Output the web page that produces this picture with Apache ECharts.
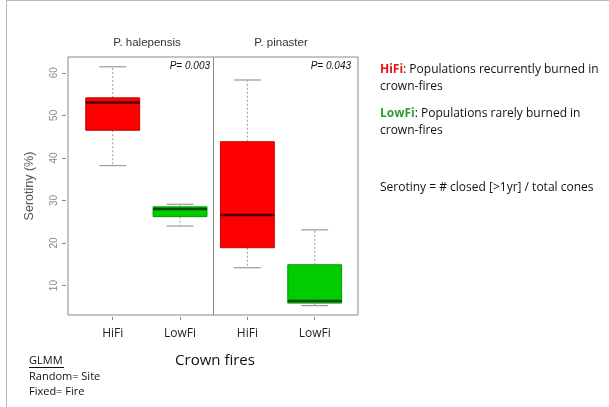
<!DOCTYPE html>
<html><head><meta charset="utf-8">
<script src="https://cdn.jsdelivr.net/npm/echarts@6/dist/echarts.min.js"></script>
<style>html,body{margin:0;padding:0;background:#fff}#c{width:609px;height:407px}</style>
</head><body><div id="c"></div>
<script>
var categories = ['HiFi', 'LowFi', 'HiFi', 'LowFi'];
var species = ['P. halepensis', 'P. pinaster'];
var pValues = ['P= 0.003', 'P= 0.043'];
var whiskerLow = [38.2, 24.0, 14.2, 5.3];
var q1 = [46.5, 26.2, 18.9, 5.9];
var median = [53.0, 28.0, 26.6, 6.4];
var q3 = [54.1, 28.5, 43.8, 14.9];
var whiskerHigh = [61.4, 29.1, 58.3, 23.1];
var yTicks = [10, 20, 30, 40, 50, 60];

var fills = ['#ff0000', '#00cc00', '#ff0000', '#00cc00'];
var borders = ['#c00000', '#009a00', '#c00000', '#009a00'];
var medCols = ['#4a0000', '#064d06', '#4a0000', '#064d06'];

var positions = categories.map(function (c, i) { return i + 1; });
var data = positions.map(function (x, i) {
  return [x, whiskerLow[i], q1[i], median[i], q3[i], whiskerHigh[i]];
});

var chart = echarts.init(document.getElementById('c'), null, {renderer: 'canvas'});
var sans = 'Liberation Sans';
var slide = 'Open Sans';

chart.setOption({
  animation: false,
  grid: {left: 68, right: 251, top: 57, bottom: 92, show: true, borderColor: '#8a8a8a', borderWidth: 1},
  xAxis: {
    type: 'value', min: 0.336, max: 4.643, offset: 2,
    axisLine: {show: false}, splitLine: {show: false},
    axisTick: {show: true, length: 3, lineStyle: {color: '#888'}, customValues: positions},
    axisLabel: {customValues: positions, margin: 11, fontFamily: slide, fontSize: 12, color: '#222',
      formatter: function (v) { return categories[Math.round(v) - 1] || ''; }}
  },
  yAxis: {
    type: 'value', min: 3.1, max: 63.7, offset: 2,
    name: 'Serotiny (%)', nameLocation: 'middle', nameGap: 30, nameRotate: 90,
    nameTextStyle: {fontFamily: sans, fontSize: 12.5, color: '#555'},
    axisLine: {show: false}, splitLine: {show: false},
    axisTick: {show: true, length: 4, lineStyle: {color: '#888'}, customValues: yTicks},
    axisLabel: {customValues: yTicks, rotate: 90, margin: 7, fontFamily: sans, fontSize: 10, color: '#888'}
  },
  series: [{
    type: 'custom',
    data: data,
    encode: {x: 0, y: [1, 2, 3, 4, 5]},
    renderItem: function (params, api) {
      var i = params.dataIndex;
      var x = api.value(0);
      var hw = 0.4, cw = 0.2;
      var pLow = api.coord([x, api.value(1)]);
      var pQ1 = api.coord([x, api.value(2)]);
      var pMed = api.coord([x, api.value(3)]);
      var pQ3 = api.coord([x, api.value(4)]);
      var pHigh = api.coord([x, api.value(5)]);
      var left = api.coord([x - hw, 0])[0], right = api.coord([x + hw, 0])[0];
      var cl = api.coord([x - cw, 0])[0], cr = api.coord([x + cw, 0])[0];
      var wStyle = {stroke: '#9a9a9a', lineWidth: 1, lineDash: [2, 2]};
      var cStyle = {stroke: '#9a9a9a', lineWidth: 1.2};
      return {
        type: 'group',
        children: [
          {type: 'line', shape: {x1: pQ3[0], y1: pQ3[1], x2: pHigh[0], y2: pHigh[1]}, style: wStyle},
          {type: 'line', shape: {x1: pQ1[0], y1: pQ1[1], x2: pLow[0], y2: pLow[1]}, style: wStyle},
          {type: 'line', shape: {x1: cl, y1: pHigh[1], x2: cr, y2: pHigh[1]}, style: cStyle},
          {type: 'line', shape: {x1: cl, y1: pLow[1], x2: cr, y2: pLow[1]}, style: cStyle},
          {type: 'rect', shape: {x: left, y: pQ3[1], width: right - left, height: pQ1[1] - pQ3[1]},
            style: {fill: fills[i], stroke: borders[i], lineWidth: 1}},
          {type: 'line', shape: {x1: left, y1: pMed[1], x2: right, y2: pMed[1]},
            style: {stroke: medCols[i], lineWidth: 2.5}}
        ]
      };
    },
    markLine: {
      silent: true, symbol: 'none', label: {show: false},
      lineStyle: {color: '#8a8a8a', width: 1, type: 'solid'},
      data: [{xAxis: 2.49}]
    }
  }],
  graphic: [
    {type: 'line', shape: {x1: 6.5, y1: 0, x2: 6.5, y2: 407}, style: {stroke: '#b8b8b8', lineWidth: 1}},
    {type: 'line', shape: {x1: 6, y1: 0.5, x2: 609, y2: 0.5}, style: {stroke: '#b8b8b8', lineWidth: 1}},
    {type: 'text', x: 147, y: 43, style: {text: species[0], fontFamily: sans, fontSize: 11.5, fill: '#333', textAlign: 'center', textVerticalAlign: 'middle'}},
    {type: 'text', x: 281, y: 43, style: {text: species[1], fontFamily: sans, fontSize: 11.5, fill: '#333', textAlign: 'center', textVerticalAlign: 'middle'}},
    {type: 'text', x: 210, y: 66, style: {text: pValues[0], fontFamily: sans, fontSize: 10, fontStyle: 'italic', fill: '#111', textAlign: 'right', textVerticalAlign: 'middle'}},
    {type: 'text', x: 351, y: 66, style: {text: pValues[1], fontFamily: sans, fontSize: 10, fontStyle: 'italic', fill: '#111', textAlign: 'right', textVerticalAlign: 'middle'}},
    {type: 'text', x: 215, y: 361, style: {text: 'Crown fires', fontFamily: slide, fontSize: 15, fill: '#111', textAlign: 'center', textVerticalAlign: 'middle'}},
    {type: 'text', x: 29, y: 361, style: {text: 'GLMM', fontFamily: slide, fontSize: 11, fill: '#111', textVerticalAlign: 'middle'}},
    {type: 'line', shape: {x1: 29, y1: 367.5, x2: 64, y2: 367.5}, style: {stroke: '#111', lineWidth: 1}},
    {type: 'text', x: 29, y: 377, style: {text: 'Random= Site', fontFamily: slide, fontSize: 11, fill: '#111', textVerticalAlign: 'middle'}},
    {type: 'text', x: 29, y: 392, style: {text: 'Fixed= Fire', fontFamily: slide, fontSize: 11, fill: '#111', textVerticalAlign: 'middle'}},
    {type: 'text', x: 380, y: 78, style: {
      text: '{r|HiFi}: Populations recurrently burned in\ncrown-fires',
      fontFamily: slide, fontSize: 12, fill: '#111', lineHeight: 17, textVerticalAlign: 'middle',
      rich: {r: {fill: '#ee1111', fontWeight: 'bold', fontFamily: slide, fontSize: 12}}}},
    {type: 'text', x: 380, y: 122, style: {
      text: '{g|LowFi}: Populations rarely burned in\ncrown-fires',
      fontFamily: slide, fontSize: 12, fill: '#111', lineHeight: 17, textVerticalAlign: 'middle',
      rich: {g: {fill: '#2e9e2e', fontWeight: 'bold', fontFamily: slide, fontSize: 12}}}},
    {type: 'text', x: 380, y: 188, style: {text: 'Serotiny = # closed [>1yr] / total cones', fontFamily: slide, fontSize: 12, fill: '#111', textVerticalAlign: 'middle'}}
  ]
});
</script></body></html>
